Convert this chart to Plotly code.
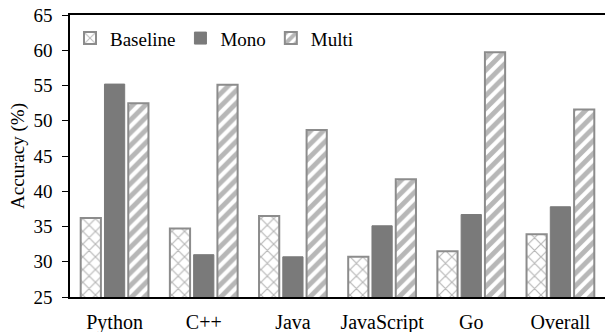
import plotly.graph_objects as go

categories = ["Python", "C++", "Java", "JavaScript", "Go", "Overall"]
baseline = [36.2, 34.7, 36.5, 30.7, 31.5, 33.9]
mono = [55.2, 31.0, 30.7, 35.1, 36.7, 37.8]
multi = [52.5, 55.1, 48.7, 41.7, 59.7, 51.6]
y_ticks = [25, 30, 35, 40, 45, 50, 55, 60, 65]

grey = "#7a7a7a"
edge = "#8c8c8c"
font = "Liberation Serif, Times New Roman, serif"

fig = go.Figure()
fig.add_trace(go.Bar(
    name="Baseline", x=categories, y=baseline,
    marker=dict(color="white", line=dict(color=edge, width=2),
                pattern=dict(shape="x", fgcolor="#707070", bgcolor="white", size=9, solidity=0.25)),
))
fig.add_trace(go.Bar(
    name="Mono", x=categories, y=mono,
    marker=dict(color=grey, line=dict(color=grey, width=1)),
))
fig.add_trace(go.Bar(
    name="Multi", x=categories, y=multi,
    marker=dict(color="white", line=dict(color=edge, width=2),
                pattern=dict(shape="/", fgcolor="#707070", bgcolor="white", size=9, solidity=0.55)),
))

fig.update_layout(
    width=607, height=332,
    margin=dict(l=70, r=2, t=15, b=35),
    paper_bgcolor="white", plot_bgcolor="white",
    barmode="group", bargap=0.2, bargroupgap=0.15,
    font=dict(family=font, size=20, color="black"),
    showlegend=True,
    legend=dict(orientation="h", x=0.0, y=0.985, xanchor="left", yanchor="top",
                font=dict(family=font, size=19), bgcolor="rgba(0,0,0,0)",
                itemwidth=30, tracegroupgap=0),
    xaxis=dict(showline=True, linecolor="black", linewidth=2, mirror=True,
               ticks="", tickfont=dict(family=font, size=20), ticklabelstandoff=6,
               showgrid=False, automargin=False),
    yaxis=dict(range=[25, 65], tickvals=y_ticks, showline=True, linecolor="black",
               linewidth=1.5, ticks="outside", ticklen=6, tickcolor="black",
               showgrid=False, zeroline=False, automargin=False,
               ticklabeloverflow="allow", ticklabelstandoff=6,
               tickfont=dict(family=font, size=19),
               title=dict(text="Accuracy (%)", font=dict(family=font, size=19), standoff=4)),
)

fig.write_html("out.html", config={"displayModeBar": False},
               post_script="document.body.style.margin='0px';")
